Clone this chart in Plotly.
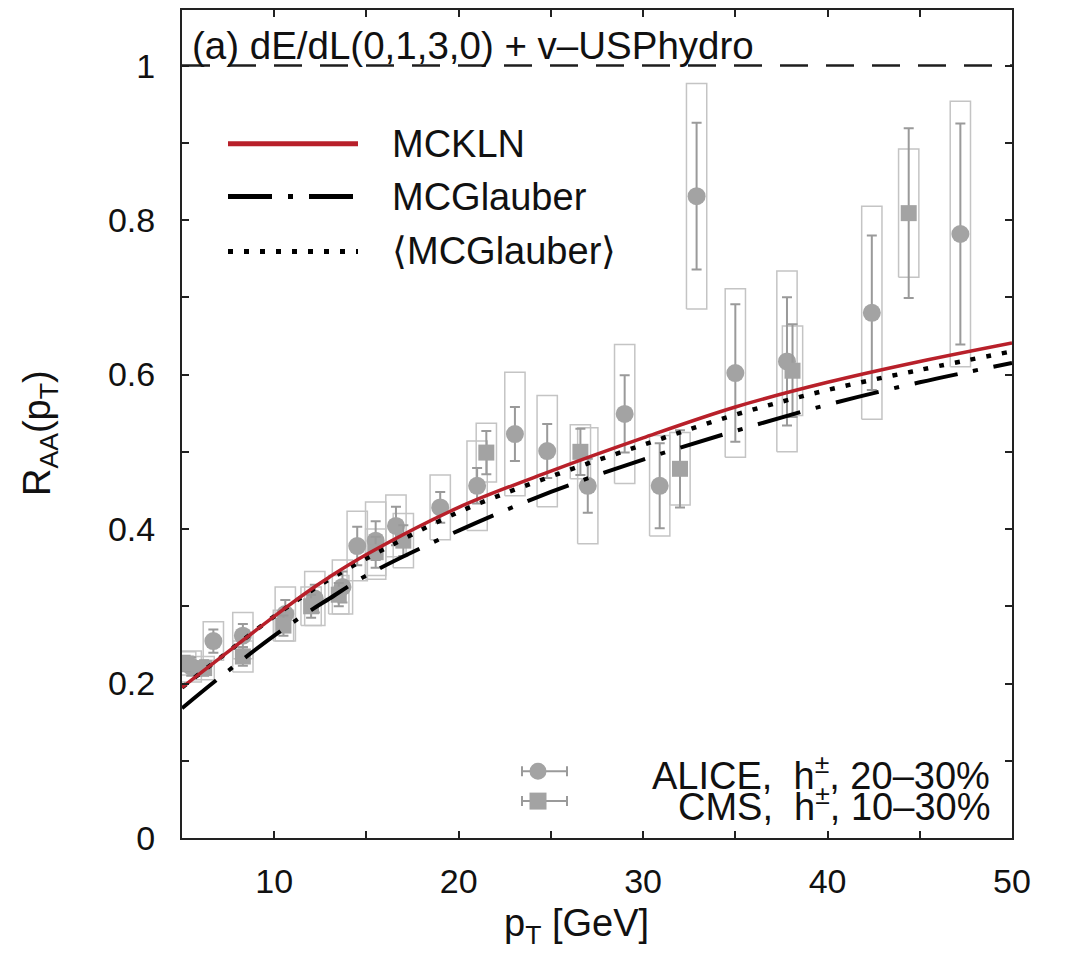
import plotly.graph_objects as go

# ---------------- data ----------------
# model curves (pT in GeV)
curve_x = [5, 7, 10, 12, 13, 15, 20, 25, 30, 35, 40, 45, 50]
mckln = [0.195, 0.232, 0.287, 0.322, 0.338, 0.367, 0.428, 0.475, 0.518, 0.558, 0.590, 0.617, 0.641]
mcglauber = [0.168, 0.207, 0.262, 0.295, 0.310, 0.340, 0.398, 0.448, 0.490, 0.527, 0.561, 0.590, 0.615]
mcglauber_avg = [0.195, 0.232, 0.287, 0.320, 0.335, 0.362, 0.422, 0.468, 0.509, 0.548, 0.580, 0.606, 0.630]

# ALICE h+-, 20-30%
alice_x = [5.5, 6.7, 8.3, 10.6, 12.2, 13.7, 14.5, 15.5, 16.6, 19.0, 21.0, 23.05, 24.8, 27.0, 29.0, 30.9, 32.9, 35.0, 37.8, 42.4, 47.2]
alice_y = [0.222, 0.255, 0.262, 0.290, 0.310, 0.325, 0.378, 0.385, 0.404, 0.428, 0.456, 0.523, 0.501, 0.456, 0.549, 0.456, 0.831, 0.602, 0.617, 0.680, 0.782]
alice_stat = [0.012, 0.015, 0.015, 0.018, 0.018, 0.020, 0.025, 0.025, 0.025, 0.020, 0.023, 0.035, 0.035, 0.035, 0.050, 0.055, 0.095, 0.089, 0.083, 0.100, 0.143]
alice_sys = [0.020, 0.025, 0.030, 0.035, 0.035, 0.035, 0.045, 0.050, 0.040, 0.042, 0.058, 0.080, 0.072, 0.075, 0.090, 0.065, 0.146, 0.109, 0.117, 0.138, 0.172]

# CMS h+-, 10-30%
cms_x = [5.2, 6.2, 8.3, 10.5, 12.0, 13.5, 15.5, 17.0, 21.5, 26.6, 32.0, 38.1, 44.4]
cms_y = [0.226, 0.220, 0.235, 0.275, 0.300, 0.315, 0.370, 0.385, 0.499, 0.500, 0.478, 0.605, 0.809]
cms_stat = [0.010, 0.010, 0.012, 0.013, 0.015, 0.015, 0.020, 0.020, 0.028, 0.030, 0.050, 0.060, 0.110]
cms_sys = [0.015, 0.015, 0.020, 0.020, 0.025, 0.025, 0.030, 0.035, 0.038, 0.035, 0.047, 0.058, 0.083]

x_ticks = [10, 20, 30, 40, 50]
y_ticks = [0, 0.2, 0.4, 0.6, 0.8, 1.0]
y_ticktext = ["0", "0.2", "0.4", "0.6", "0.8", "1"]

# ---------------- style ----------------
FONT = "Liberation Sans, Arial, Helvetica, sans-serif"
RED = "#b8202a"
GRAY = "#a3a3a3"
BAR = "#9a9a9a"
BOX = "#c4c4c4"
BOX_HW = 0.55


def boxes(xs, ys, ss, hw):
    px, py = [], []
    for x, y, s in zip(xs, ys, ss):
        px += [x - hw, x + hw, x + hw, x - hw, x - hw, None]
        py += [y - s, y - s, y + s, y + s, y - s, None]
    return px, py


fig = go.Figure()

# systematic boxes
for xs, ys, ss in [(alice_x, alice_y, alice_sys), (cms_x, cms_y, cms_sys)]:
    bx, by = boxes(xs, ys, ss, BOX_HW)
    fig.add_trace(go.Scatter(x=bx, y=by, mode="lines", line=dict(color=BOX, width=1.5),
                             showlegend=False, hoverinfo="skip"))

# data points with stat errors
fig.add_trace(go.Scatter(
    x=alice_x, y=alice_y, mode="markers", name="ALICE",
    marker=dict(symbol="circle", size=18, color=GRAY),
    error_y=dict(type="data", array=alice_stat, visible=True, color=BAR, thickness=2, width=5),
    showlegend=False))
fig.add_trace(go.Scatter(
    x=cms_x, y=cms_y, mode="markers", name="CMS",
    marker=dict(symbol="square", size=16, color=GRAY),
    error_y=dict(type="data", array=cms_stat, visible=True, color=BAR, thickness=2, width=5),
    showlegend=False))

# model curves
fig.add_trace(go.Scatter(x=curve_x, y=mcglauber, mode="lines", line_shape="spline",
                         line=dict(color="black", width=4, dash="44px,16px,5px,16px"),
                         showlegend=False))
fig.add_trace(go.Scatter(x=curve_x, y=mcglauber_avg, mode="lines", line_shape="spline",
                         line=dict(color="black", width=4.5, dash="5px,11px"),
                         showlegend=False))
fig.add_trace(go.Scatter(x=curve_x, y=mckln, mode="lines", line_shape="spline",
                         line=dict(color=RED, width=3.5), showlegend=False))

shapes = []
# reference line at R_AA = 1
shapes.append(dict(type="line", xref="paper", yref="y", x0=0, x1=1, y0=1, y1=1,
                   line=dict(color="#1e1e1e", width=2.5, dash="28px,18px")))


def px2x(p):
    return (p - 182) / 830.0


def py2y(p):
    return (838 - p) / 830.0


# legend (upper left) - line samples in paper coordinates
leg_items = [("MCKLN", dict(color=RED, width=5), 142),
             ("MCGlauber", dict(color="black", width=5, dash="44px,16px,5px,16px"), 195),
             ("\u27e8MCGlauber\u27e9", dict(color="black", width=5, dash="5px,11px"), 250)]
annotations = []
for label, ln, ypx in leg_items:
    shapes.append(dict(type="line", xref="paper", yref="paper",
                       x0=px2x(228), x1=px2x(358), y0=py2y(ypx), y1=py2y(ypx), line=ln))
    annotations.append(dict(text=label, xref="paper", yref="paper", x=px2x(390), y=py2y(ypx),
                            xanchor="left", yanchor="middle", showarrow=False,
                            font=dict(size=38, color="#111", family=FONT)))

# data legend (lower right)
for ypx, sym in [(771, "circle"), (801, "square")]:
    shapes.append(dict(type="line", xref="paper", yref="paper", x0=px2x(522), x1=px2x(567),
                       y0=py2y(ypx), y1=py2y(ypx), line=dict(color=BAR, width=2)))
    for xe in (522, 567):
        shapes.append(dict(type="line", xref="paper", yref="paper", x0=px2x(xe), x1=px2x(xe),
                           y0=py2y(ypx - 5), y1=py2y(ypx + 5), line=dict(color=BAR, width=2)))
    r = 8.5
    shapes.append(dict(type="circle" if sym == "circle" else "rect", xref="paper", yref="paper",
                       x0=px2x(538 - r), x1=px2x(538 + r), y0=py2y(ypx + r), y1=py2y(ypx - r),
                       fillcolor=GRAY, line=dict(color=GRAY, width=0)))

annotations.append(dict(text="ALICE,\u00a0\u00a0h<sup>\u00b1</sup>, 20\u201330%", xref="paper", yref="paper",
                        x=px2x(992), y=py2y(773), xanchor="right", yanchor="middle", showarrow=False,
                        font=dict(size=38, color="#111", family=FONT)))
annotations.append(dict(text="CMS,\u00a0\u00a0h<sup>\u00b1</sup>, 10\u201330%", xref="paper", yref="paper",
                        x=px2x(992), y=py2y(804), xanchor="right", yanchor="middle", showarrow=False,
                        font=dict(size=38, color="#111", family=FONT)))

# header
annotations.append(dict(text="(a) dE/dL(0,1,3,0) + v\u2013USPhydro", xref="paper", yref="paper",
                        x=px2x(190), y=py2y(44), xanchor="left", yanchor="middle", showarrow=False,
                        font=dict(size=38.5, color="#111", family=FONT)))

# axis titles
annotations.append(dict(text="R<sub>AA</sub>(p<sub>T</sub>)", xref="paper", yref="paper",
                        x=px2x(40), y=py2y(432), textangle=-90, xanchor="center", yanchor="middle",
                        showarrow=False, font=dict(size=38, color="#111", family=FONT)))
annotations.append(dict(text="p<sub>T</sub> [GeV]", xref="paper", yref="paper",
                        x=px2x(576), y=py2y(926), xanchor="center", yanchor="middle",
                        showarrow=False, font=dict(size=38, color="#111", family=FONT)))

fig.update_layout(
    width=1069, height=956,
    margin=dict(l=182, r=57, t=8, b=118),
    paper_bgcolor="white", plot_bgcolor="white",
    font=dict(family=FONT, color="#111"),
    shapes=shapes, annotations=annotations,
    showlegend=False,
)
fig.update_xaxes(range=[5, 50], tickvals=x_ticks, ticks="inside", ticklen=7, tickwidth=1.5,
                 tickcolor="#222", showline=True, linecolor="#222", linewidth=2, mirror="ticks",
                 showgrid=False, zeroline=False, tickfont=dict(size=34, family=FONT, color="#111"),
                 ticklabelstandoff=12,
                 minor=dict(tickvals=[15, 25, 35, 45], ticks="inside", ticklen=7, tickwidth=1.5,
                            tickcolor="#222", showgrid=False))
fig.update_yaxes(range=[0, 1.072], tickvals=y_ticks, ticktext=y_ticktext, ticks="inside", ticklen=7,
                 tickwidth=1.5, tickcolor="#222", showline=True, linecolor="#222", linewidth=2,
                 mirror="ticks", showgrid=False, zeroline=False,
                 tickfont=dict(size=34, family=FONT, color="#111"), ticklabelstandoff=18,
                 minor=dict(dtick=0.1, ticks="inside", ticklen=7, tickwidth=1.5, tickcolor="#222",
                            showgrid=False))

fig.write_html("out.html")
